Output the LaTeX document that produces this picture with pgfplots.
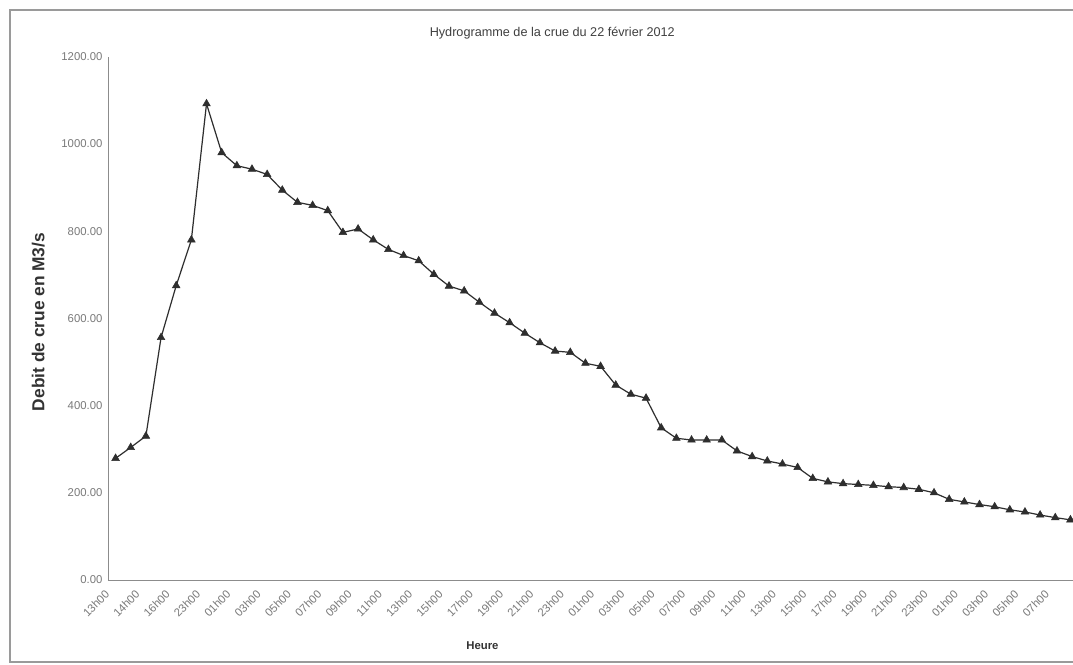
\documentclass[border=0pt]{standalone}
\usepackage{pgfplots}
\pgfplotsset{compat=1.18}
\usepackage{fontspec}
\setmainfont{Liberation Sans}
\definecolor{linegray}{HTML}{2E2E2E}
\definecolor{tickgray}{HTML}{7A7A7A}
\definecolor{axisgray}{HTML}{8C8C8C}
\definecolor{framegray}{HTML}{9A9A9A}
\begin{document}
\begin{tikzpicture}
\path[use as bounding box] (0pt,0pt) rectangle (804.75pt,498pt);
\clip (0pt,0pt) rectangle (804.75pt,498pt);
\fill[white] (0pt,0pt) rectangle (804.75pt,498pt);
\draw[framegray, line width=1.5pt] (7.5pt,1.5pt) rectangle (825pt,490.5pt);
\begin{axis}[
  at={(81pt,63pt)}, anchor=south west,
  scale only axis, width=727.5pt, height=392.5pt,
  xmin=-0.5, xmax=63.5, ymin=0, ymax=1200,
  axis x line=bottom, axis y line=left,
  axis line style={-, axisgray, line width=0.6pt},
  major tick length=0pt,
  xtick={0,2,...,62},
  xticklabels={13h00,14h00,16h00,23h00,01h00,03h00,05h00,07h00,09h00,11h00,13h00,15h00,17h00,19h00,21h00,23h00,01h00,03h00,05h00,07h00,09h00,11h00,13h00,15h00,17h00,19h00,21h00,23h00,01h00,03h00,05h00,07h00},
  ytick={0,200,...,1200},
  /pgf/number format/assume math mode=true,
  yticklabel={\pgfmathprintnumber[fixed,fixed zerofill,precision=2,1000 sep={}]{\tick}},
  scaled y ticks=false,
  ticklabel style={font=\fontsize{8.5}{10}\selectfont, text=tickgray},
  xticklabel style={xshift=-8.5pt, yshift=-5.5pt, rotate=45, anchor=north east, inner sep=1pt},
  yticklabel style={inner sep=1pt, xshift=-3pt},
  title={Hydrogramme de la crue du 22 février 2012},
  title style={at={(axis description cs:0.458,1.03)}, anchor=center, font=\fontsize{9.5}{11}\selectfont, text=black!75},
  xlabel={Heure},
  xlabel style={at={(axis description cs:0.386,-0.126)}, anchor=center, font=\bfseries\fontsize{8.5}{10}\selectfont, text=black!80},
  ylabel={Debit de crue en M3/s},
  ylabel style={at={(axis description cs:-0.0718,0.493)}, anchor=center, font=\bfseries\fontsize{13}{15}\selectfont, text=black!80},
  clip=false,
]
\addplot[color=linegray, line width=0.9pt, mark=triangle*, mark size=3.3pt, mark options={fill=linegray, draw=linegray, line width=0.4pt}]
table[x=i, y=q] {
i q
0 279
1 304
2 330
3 556
4 675
5 780
6 1092
7 980
8 950
9 942
10 930
11 894
12 866
13 859
14 847
15 797
16 805
17 780
18 758
19 744
20 732
21 701
22 674
23 663
24 637
25 612
26 590
27 566
28 544
29 525
30 522
31 497
32 490
33 447
34 426
35 417
36 349
37 325
38 321
39 321
40 321
41 296
42 283
43 273
44 266
45 258
46 233
47 225
48 221
49 219
50 217
51 214
52 212
53 208
54 200
55 185
56 179
57 173
58 168
59 161
60 156
61 149
62 143
63 138
};
\end{axis}
\end{tikzpicture}
\end{document}
